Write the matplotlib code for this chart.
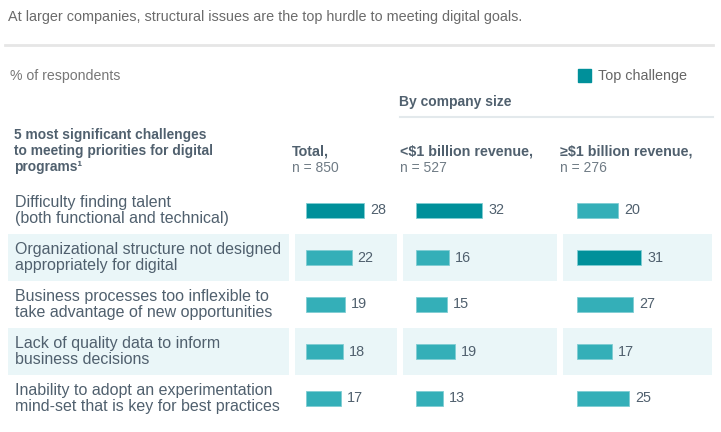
import matplotlib
matplotlib.use('Agg')
import matplotlib.pyplot as plt
from matplotlib.patches import Rectangle

plt.rcParams['font.family'] = ['Liberation Sans', 'DejaVu Sans']

# data
challenges = [
    "Difficulty finding talent\n(both functional and technical)",
    "Organizational structure not designed\nappropriately for digital",
    "Business processes too inflexible to\ntake advantage of new opportunities",
    "Lack of quality data to inform\nbusiness decisions",
    "Inability to adopt an experimentation\nmind-set that is key for best practices",
]
col_titles = ["Total,", "<$1 billion revenue,", "\u2265$1 billion revenue,"]
col_n = ["n = 850", "n = 527", "n = 276"]
total = [28, 22, 19, 18, 17]
small = [32, 16, 15, 19, 13]
large = [20, 31, 27, 17, 25]
# index of the top challenge in each column
top_idx = [0, 0, 1]

W, H = 721, 432
DARK = "#00909a"
LIGHT = "#34afb8"
BAND = "#eaf6f8"
TXT = "#50606e"
GRAY = "#6b6b6b"

fig = plt.figure(figsize=(W / 100, H / 100), dpi=100)


def ftext(x, y, s, **kw):
    # place text with pixel coords (origin top-left)
    kw.setdefault('va', 'center')
    return fig.text(x / W, 1 - y / H, s, **kw)


def add_ax(x0, y0, x1, y1):
    a = fig.add_axes([x0 / W, 1 - y1 / H, (x1 - x0) / W, (y1 - y0) / H])
    a.set_axis_off()
    return a


# header
ftext(8, 17, "At larger companies, structural issues are the top hurdle to meeting digital goals.",
      fontsize=10.4, color=GRAY)
fig.add_artist(plt.Line2D([5 / W, 713 / W], [1 - 45 / H, 1 - 45 / H], color="#e6e6e6", lw=2))
ftext(10, 76, "% of respondents", fontsize=10.2, color="#777777")
fig.add_artist(Rectangle((578 / W, 1 - 82 / H), 13 / W, 13 / H, color=DARK, transform=fig.transFigure))
ftext(598, 76, "Top challenge", fontsize=10.4, color="#666666")
ftext(399, 102, "By company size", fontsize=10, color=TXT, fontweight='bold')
fig.add_artist(plt.Line2D([400 / W, 713 / W], [1 - 117 / H, 1 - 117 / H], color="#e3e9ec", lw=1.5))

ftext(14, 151, "5 most significant challenges\nto meeting priorities for digital\nprograms\u00b9",
      fontsize=9.9, color=TXT, fontweight='bold', linespacing=1.22)

# row area
y_top, y_bot = 187, 422
n = len(challenges)

lab_ax = add_ax(8, y_top, 289, y_bot)
lab_ax.set_xlim(0, 1)
lab_ax.set_ylim(n - 0.5, -0.5)
for i, s in enumerate(challenges):
    if i % 2 == 1:
        lab_ax.axhspan(i - 0.5, i + 0.5, color=BAND, lw=0)
    lab_ax.text(7 / 281, i, s, va='center', ha='left', fontsize=11.5, color=TXT,
                linespacing=1.06)

cols = [(295, 397, 306), (403, 557, 416), (563, 712, 577)]
series = [total, small, large]
px_per_unit = 2.07

for c, ((x0, x1, bx), vals) in enumerate(zip(cols, series)):
    ftext(x0 - 3, 152, col_titles[c], fontsize=10.3, color=TXT, fontweight='bold')
    ftext(x0 - 3, 168, col_n[c], fontsize=10, color="#6f7b85")
    ax = add_ax(x0, y_top, x1, y_bot)
    ax.set_xlim(-(bx - x0) / px_per_unit, (x1 - bx) / px_per_unit)
    ax.set_ylim(n - 0.5, -0.5)
    for i in range(n):
        if i % 2 == 1:
            ax.axhspan(i - 0.5, i + 0.5, color=BAND, lw=0)
    colors = [DARK if i == top_idx[c] else LIGHT for i in range(n)]
    ax.barh(range(n), vals, height=0.34, color=colors, edgecolor="#7fcdd3", linewidth=0.6)
    for i, v in enumerate(vals):
        ax.text(v + 6 / px_per_unit, i, str(v), va='center', ha='left', fontsize=10.4, color=TXT)

fig.savefig("out.png", dpi=100)
